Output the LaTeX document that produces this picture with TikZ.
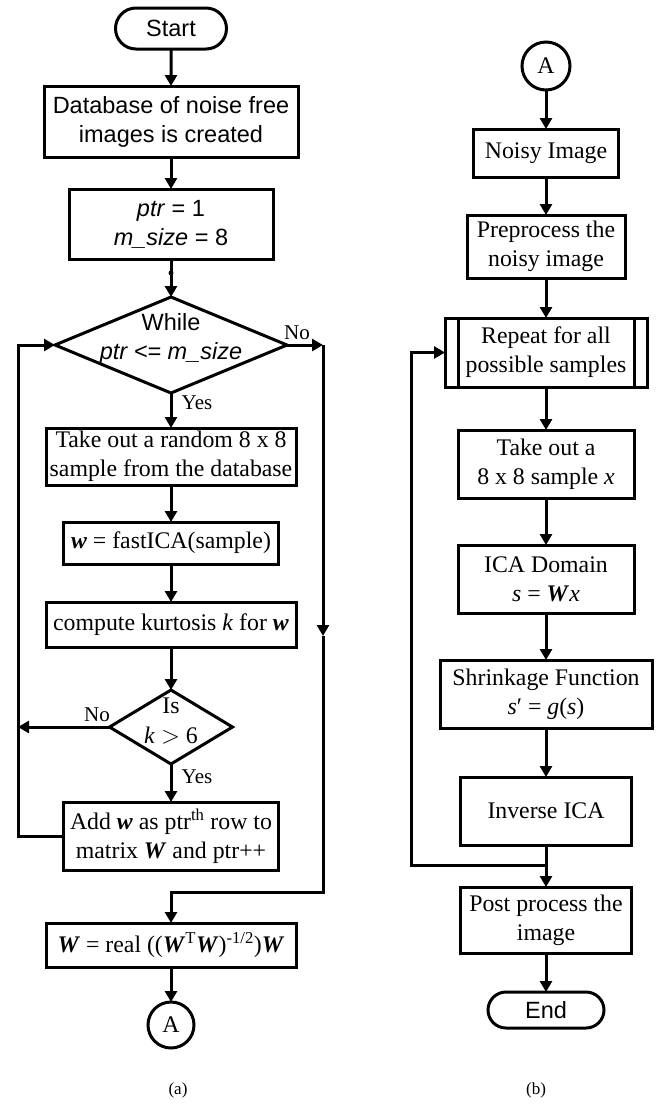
\documentclass[tikz,border=0pt]{standalone}
\usepackage{fontspec}
\setmainfont{Liberation Serif}
\newfontfamily\arialf{Liberation Sans}
\usetikzlibrary{shapes.geometric,shapes.misc,arrows.meta}
\newcommand\bwi[1]{\textbf{\textit{#1}}}
\begin{document}
\begin{tikzpicture}[x=1pt,y=-1pt,
  every node/.style={font=\fontsize{23.8}{29}\selectfont, inner sep=0pt, outer sep=0pt},
  box/.style={draw, line width=3pt, rectangle, align=center},
  term/.style={draw, line width=3pt, rounded rectangle, align=center, font=\arialf\fontsize{23.5}{29}\selectfont},
  dia/.style={draw, line width=3pt, diamond},
  conn/.style={draw, line width=3pt, circle, minimum size=46pt},
  arr/.style={line width=3pt, -{Triangle[length=11pt,width=12pt]}},
  plain/.style={line width=3pt},
  lab/.style={font=\fontsize{21}{25}\selectfont},
  captxt/.style={font=\fontsize{17}{20}\selectfont}
]
\useasboundingbox (0,0) rectangle (656,1104);

% ---------- left column ----------
\node[term, minimum width=111pt, minimum height=41pt] (start) at (171,28.5) {Start};
\node[box, minimum width=254pt, minimum height=71pt, font=\arialf\fontsize{23.5}{29}\selectfont] (db) at (171,121.5) {Database of noise free\\images is created};
\node[box, minimum width=204pt, minimum height=70pt, font=\arialf\fontsize{23.5}{29}\selectfont] (ptr) at (171,224) {\textit{ptr} = 1\\\textit{m\_size} = 8};
\node[dia, minimum width=232pt, minimum height=96pt] (while) at (171,345) {};
\node[align=center, font=\arialf\fontsize{23.5}{29}\selectfont] (whiletxt) at (171,339) {While\\\textit{ptr <= m\_size}};
\node[box, minimum width=250pt, minimum height=57pt] (take) at (171,456.5) {Take out a random 8 x 8\\sample from the database};
\node[box, minimum width=215pt, minimum height=42pt] (wica) at (171,543) {\bwi{w} = fastICA(sample)};
\node[box, minimum width=250pt, minimum height=45pt] (kurt) at (171,624.5) {compute kurtosis \textit{k} for \bwi{w}};
\node[dia, minimum width=123pt, minimum height=74pt] (is) at (171,727) {};
\node[align=center, font=\fontsize{23.8}{30}\selectfont] (istxt) at (171,721) {Is\\\textit{k} $>$ 6};
\node[box, minimum width=215pt, minimum height=68pt] (add) at (171,836) {Add \bwi{w} as ptr\textsuperscript{th} row to\\matrix \bwi{W} and ptr++};
\node[box, minimum width=250pt, minimum height=44pt] (wbox) at (171,945) {\bwi{W} = real ((\bwi{W}\textsuperscript{T}\bwi{W})\textsuperscript{-1/2})\bwi{W}};
\node[conn] (a1) at (171,1025) {A};

\node[lab] (no1) at (297,333) {No};
\node[lab] (yes1) at (197,403) {Yes};
\node[lab] (no2) at (97,715) {No};
\node[lab] (yes2) at (197,777) {Yes};

\coordinate (dot) at (171,273);
\coordinate (lc) at (18,345);
\coordinate (rc) at (323,345);
\coordinate (rmid) at (323,636);
\coordinate (rbot) at (323,892);

\draw[arr] (start) -- (db);
\draw[arr] (db) -- (ptr);
\draw[arr] (ptr) -- (while);
\fill (dot) circle (2.5pt);
\draw[arr] (while) -- (take);
\draw[arr] (take) -- (wica);
\draw[arr] (wica) -- (kurt);
\draw[arr] (kurt) -- (is);
\draw[arr] (is) -- (add);
\draw[arr] (is.west) -- (lc |- is.west);
\draw[arr] (add.west) -| (lc) -- (while.west);
\draw[arr] (while.east) -- (rc);
\draw[arr] (rc) -- (rmid);
\draw[arr] (rmid) -- (rbot) -| (wbox.north);
\draw[arr] (wbox) -- (a1);

% ---------- right column ----------
\node[conn, minimum size=48pt] (a2) at (546,66) {A};
\node[box, minimum width=145pt, minimum height=48pt] (noisy) at (546,153) {Noisy Image};
\node[box, minimum width=158pt, minimum height=63pt] (prep) at (546,246.5) {Preprocess the\\noisy image};
\node[box, minimum width=202pt, minimum height=69pt] (rep) at (546,352.5) {Repeat for all\\possible samples};
\node[box, minimum width=176pt, minimum height=68pt] (take2) at (546,464) {Take out a\\8 x 8 sample \textit{x}};
\node[box, minimum width=176pt, minimum height=68pt] (ica) at (546,579) {ICA Domain\\\textit{s} = \bwi{W}\textit{x}};
\node[box, minimum width=212pt, minimum height=68pt] (shr) at (546,694) {Shrinkage Function\\\textit{s}′ = \textit{g}(\textit{s})};
\node[box, minimum width=171pt, minimum height=68pt] (inv) at (546,811) {Inverse ICA};
\node[box, minimum width=171pt, minimum height=66pt] (post) at (546,920) {Post process the\\image};
\node[term, minimum width=116pt, minimum height=36pt] (end) at (546,1010) {End};

\draw[plain] ([xshift=13pt]rep.north west) -- ([xshift=13pt]rep.south west);
\draw[plain] ([xshift=-13pt]rep.north east) -- ([xshift=-13pt]rep.south east);

\coordinate (rj) at (546,865);
\coordinate (rl) at (411,865);

\draw[arr] (a2) -- (noisy);
\draw[arr] (noisy) -- (prep);
\draw[arr] (prep) -- (rep);
\draw[arr] (rep) -- (take2);
\draw[arr] (take2) -- (ica);
\draw[arr] (ica) -- (shr);
\draw[arr] (shr) -- (inv);
\draw[arr] (inv) -- (post);
\draw[arr] (post) -- (end);
\draw[arr] (rj) -- (rl) |- (rep.west);

% ---------- captions ----------
\node[captxt] (capa) at (178,1090) {(a)};
\node[captxt] (capb) at (536,1090) {(b)};
\end{tikzpicture}
\end{document}
